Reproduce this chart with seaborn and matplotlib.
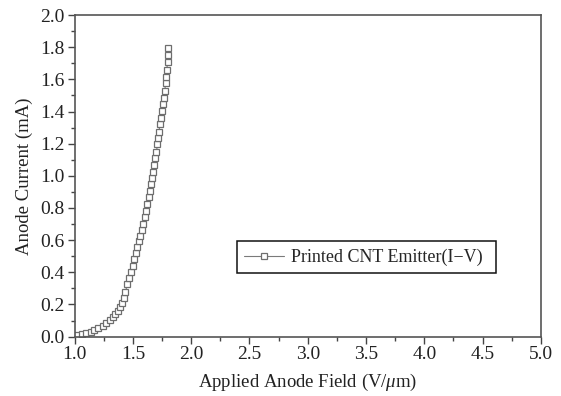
import matplotlib
matplotlib.use("Agg")
import matplotlib.pyplot as plt
import seaborn as sns
import pandas as pd
from matplotlib.ticker import MultipleLocator

field = [1.00, 1.02, 1.06, 1.10, 1.14, 1.17, 1.20, 1.24, 1.27, 1.30, 1.33, 1.35,
         1.37, 1.39, 1.410, 1.423, 1.436, 1.453, 1.470, 1.485, 1.500, 1.511,
         1.525, 1.539, 1.551, 1.563, 1.579, 1.591, 1.602, 1.614, 1.625, 1.637,
         1.648, 1.657, 1.668, 1.676, 1.685, 1.694, 1.702, 1.711, 1.717, 1.724,
         1.731, 1.742, 1.751, 1.757, 1.765, 1.774, 1.780, 1.785, 1.791, 1.797,
         1.803, 1.805]
current = [0.005, 0.010, 0.014, 0.020, 0.027, 0.038, 0.052, 0.067, 0.085, 0.103,
           0.123, 0.141, 0.162, 0.185, 0.210, 0.240, 0.280, 0.325, 0.366, 0.403,
           0.440, 0.480, 0.518, 0.555, 0.594, 0.625, 0.663, 0.700, 0.742, 0.783,
           0.824, 0.866, 0.905, 0.947, 0.984, 1.025, 1.067, 1.108, 1.150, 1.195,
           1.233, 1.274, 1.320, 1.361, 1.403, 1.444, 1.486, 1.529, 1.575, 1.616,
           1.658, 1.708, 1.751, 1.797]
series_name = "Printed CNT Emitter(I\u2212V)"
x_ticks = [1.0, 1.5, 2.0, 2.5, 3.0, 3.5, 4.0, 4.5, 5.0]
y_ticks = [0.0, 0.2, 0.4, 0.6, 0.8, 1.0, 1.2, 1.4, 1.6, 1.8, 2.0]

df = pd.DataFrame({"field": field, "current": current, "series": series_name})

sns.set_style("ticks")
plt.rcParams["font.family"] = ["Liberation Serif", "DejaVu Serif"]
plt.rcParams["mathtext.fontset"] = "custom"
plt.rcParams["mathtext.it"] = "Liberation Serif:italic"
plt.rcParams["mathtext.rm"] = "Liberation Serif"

fig = plt.figure(figsize=(5.61, 3.96), dpi=100)
ax = fig.add_axes([0.133, 0.150, 0.831, 0.812])

sns.lineplot(data=df, x="field", y="current", hue="series", palette=["#7a7a7a"],
             marker="s", markersize=4.6, markerfacecolor="white",
             markeredgecolor="#6e6e6e", markeredgewidth=0.9, linewidth=0.8,
             ax=ax, sort=False)

ax.set_xlim(1.0, 5.0)
ax.set_ylim(0.0, 2.0)
ax.set_xticks(x_ticks)
ax.set_yticks(y_ticks)
ax.set_xticklabels([f"{v:.1f}" for v in x_ticks])
ax.set_yticklabels([f"{v:.1f}" for v in y_ticks])
ax.xaxis.set_minor_locator(MultipleLocator(0.25))
ax.yaxis.set_minor_locator(MultipleLocator(0.1))
ax.tick_params(which="major", direction="out", length=5, width=1, color="#444444",
               labelsize=14, pad=2, colors="#222222")
ax.tick_params(which="minor", direction="out", length=3, width=1, color="#444444")
ax.tick_params(top=False, right=False, which="both")
for s in ax.spines.values():
    s.set_visible(True)
    s.set_color("#555555")
    s.set_linewidth(1.2)

ax.set_xlabel(r"Applied Anode Field (V/$\mu$m)", fontsize=13.5, color="#222222", labelpad=6)
ax.set_ylabel("Anode Current (mA)", fontsize=13.5, color="#222222", labelpad=5)

leg = ax.legend(loc="lower left", bbox_to_anchor=(0.348, 0.197, 0.556, 0.103),
                mode="expand", frameon=True, fancybox=False, fontsize=13,
                handlelength=2.2, borderpad=0.4, handletextpad=0.4, borderaxespad=0)
leg.get_frame().set_edgecolor("#111111")
leg.get_frame().set_linewidth(1.1)
leg.get_frame().set_alpha(1)

fig.savefig("out.png", dpi=100)
